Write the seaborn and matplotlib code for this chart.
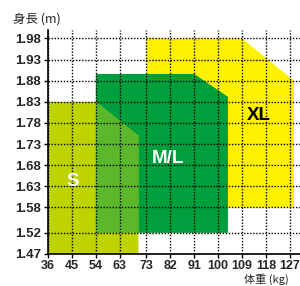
import matplotlib
matplotlib.use("Agg")
import matplotlib.pyplot as plt
import seaborn as sns

# 目盛り (体重 kg / 身長 m)
weight_ticks = [36, 45, 54, 63, 73, 82, 91, 100, 109, 118, 127]
height_ticks = [1.47, 1.52, 1.58, 1.63, 1.68, 1.73, 1.78, 1.83, 1.88, 1.93, 1.98]

# サイズごとの領域 (体重, 身長) の頂点
s_weight = [36, 70, 70, 54, 36]
s_height = [1.47, 1.47, 1.75, 1.83, 1.83]

ml_weight = [54, 103.7, 103.7, 91, 54]
ml_height = [1.52, 1.52, 1.842, 1.896, 1.896]

xl_weight = [73, 128.5, 128.5, 109, 73]
xl_height = [1.58, 1.58, 1.88, 1.98, 1.98]

# ラベル位置
size_names = ["S", "M/L", "XL"]
label_weight = [45.4, 81.1, 115.2]
label_height = [1.642, 1.696, 1.798]
label_colors = ["white", "white", "black"]

sns.set_theme(style="ticks")
plt.rcParams["font.family"] = ["Liberation Sans", "Noto Sans CJK JP", "DejaVu Sans"]

fig = plt.figure(figsize=(3.0, 2.86), dpi=100)
ax = fig.add_axes([0.16, 0.112, 0.84, 0.783])

ax.fill(xl_weight, xl_height, color="#FFF100", lw=0, zorder=1)
ax.fill(ml_weight, ml_height, color="#009F3E", lw=0, zorder=1.1)
ax.fill(s_weight, s_height, color="#BED300", lw=0, zorder=1.2)
# S と M/L の重なり
overlap = ax.fill(s_weight, s_height, color="#5BB82B", lw=0, zorder=1.3)[0]
clip = plt.Polygon(list(zip(ml_weight, ml_height)), transform=ax.transData)
overlap.set_clip_path(clip)

for name, w, h, c in zip(size_names, label_weight, label_height, label_colors):
    ax.text(w, h, name, color=c, fontsize=13.5, fontweight="bold",
            ha="center", va="center", zorder=3)

ax.set_xlim(36, 130.8)
ax.set_ylim(1.47, 2.0)
ax.set_xticks(weight_ticks)
ax.set_yticks(height_ticks)
ax.set_xticklabels([str(v) for v in weight_ticks])
ax.set_yticklabels([f"{v:.2f}" for v in height_ticks])
ax.tick_params(axis="y", labelsize=9.5, length=3, width=1, color="black", pad=2)
ax.tick_params(axis="x", labelsize=9, length=3, width=1, color="black", pad=1.5)
for lab in ax.get_xticklabels() + ax.get_yticklabels():
    lab.set_fontweight("bold")

ax.set_axisbelow(False)
ax.grid(True, color="black", linestyle=(0, (1, 1.2)), linewidth=1, zorder=2)
sns.despine(ax=ax)
for side in ["left", "bottom"]:
    ax.spines[side].set_color("black")
    ax.spines[side].set_linewidth(1.2)
    ax.spines[side].set_zorder(4)

fig.text(0.043, 0.934, "身長 (m)", fontsize=9, va="center", ha="left",
         family=["Noto Sans CJK JP", "DejaVu Sans"])
fig.text(0.815, 0.002, "体重 (kg)", fontsize=8, va="bottom", ha="left",
         family=["Noto Sans CJK JP", "DejaVu Sans"])

fig.savefig("out.png", dpi=100)
